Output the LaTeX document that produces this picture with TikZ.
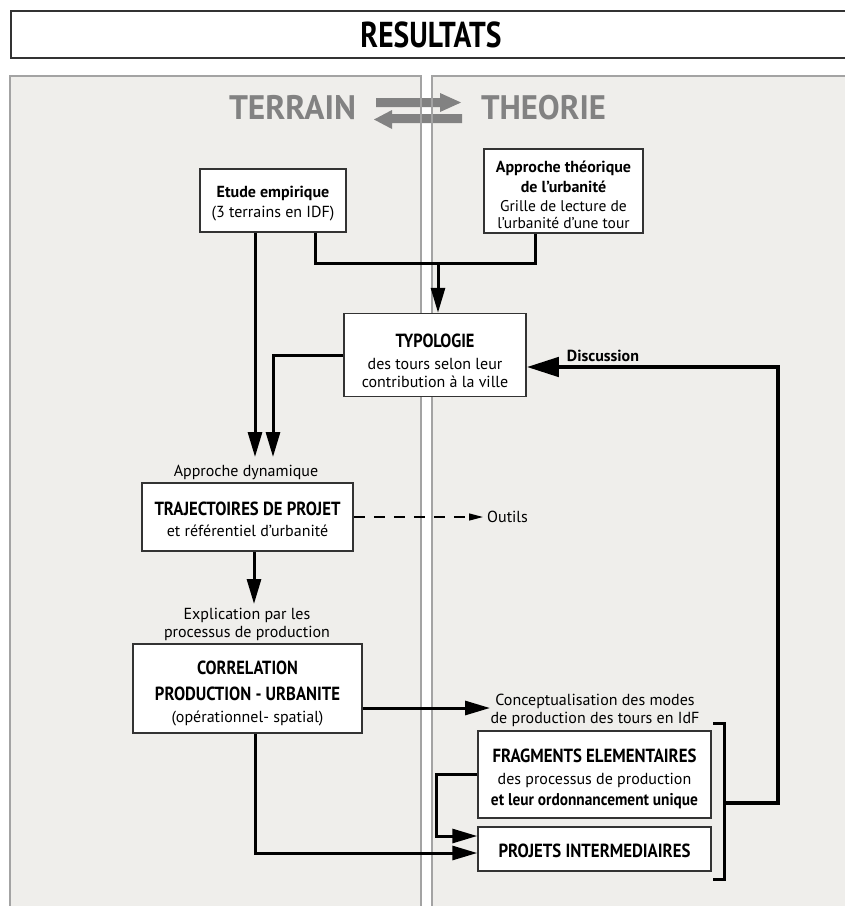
\documentclass[tikz,border=0pt]{standalone}
\usepackage{fontspec}
\usepackage{graphicx}
\setmainfont{PT Sans}
\newfontfamily\condb[FakeStretch=0.8]{PT Sans}
\usetikzlibrary{arrows.meta}
\definecolor{panelbg}{HTML}{EFEEEB}
\definecolor{panelbd}{HTML}{A3A3A3}
\definecolor{boxbd}{HTML}{333333}
\definecolor{tgray}{HTML}{828282}
\tikzset{
  box/.style={draw=boxbd, line width=1.5pt, fill=white, align=center, inner sep=0pt, font=\fontsize{16}{18}\selectfont},
  lbl/.style={align=center, inner sep=0pt, font=\fontsize{16}{18}\selectfont},
  conn/.style={line width=3pt, black},
  arr/.style={conn, -{Triangle[length=25pt,width=14pt]}},
  loopln/.style={line width=4.5pt, black, -{Triangle[length=32pt,width=19pt]}},
  dashln/.style={line width=1.3pt, dash pattern=on 11pt off 9pt, -{Triangle[length=14pt,width=7pt]}},
}
% heading text fitted to a given width, keeping its height
\newcommand{\hdw}[2]{\resizebox{#1pt}{\height}{\condb\bfseries\fontsize{19}{22}\selectfont #2}}
% invisible strut to push a text block down
\newcommand{\tstrut}[1]{\rule{0pt}{#1pt}}
\begin{document}
\begin{tikzpicture}[x=1pt,y=-1pt]
\useasboundingbox (0,0) rectangle (845,906);
\fill[white] (0,0) rectangle (845,906);
% title
\node[draw=boxbd, line width=1.5pt, fill=white, minimum width=850pt, minimum height=47pt, anchor=north west, inner sep=0pt] (title) at (10,10) {};
\node[inner sep=0pt] (titletxt) at (431,35) {\resizebox{141pt}{\height}{\condb\bfseries\fontsize{36}{40}\selectfont RESULTATS}};
% panels
\filldraw[fill=panelbg, draw=panelbd, line width=1.5pt] (10,76) rectangle (421,915);
\filldraw[fill=panelbg, draw=panelbd, line width=1.5pt] (432,76) rectangle (855,915);
% terrain / theorie
\node[text=tgray, inner sep=0pt] (terrain) at (292.5,108) {\resizebox{127pt}{\height}{\bfseries\fontsize{34}{38}\selectfont TERRAIN}};
\node[text=tgray, inner sep=0pt] (theorie) at (543.5,108) {\resizebox{125pt}{\height}{\bfseries\fontsize{34}{38}\selectfont THEORIE}};
\fill[tgray] (376,98) -- (440,98) -- (440,93) -- (461,102.5) -- (440,112) -- (440,107) -- (376,107) -- cycle;
\fill[tgray] (462,114) -- (392,114) -- (392,110) -- (374,119.5) -- (392,129) -- (392,123) -- (462,123) -- cycle;
\draw[panelbd, line width=1.5pt] (421,84) -- (421,134) (432,84) -- (432,134);
% boxes
\node[box, minimum width=146pt, minimum height=63pt] (etude) at (273,200.5)
  {\tstrut{17.5}{\bfseries Etude empirique}\\[2pt](3 terrains en IDF)};
\node[box, minimum width=159pt, minimum height=84pt] (appr) at (563.5,191)
  {\tstrut{20}{\bfseries Approche théorique}\\[2pt]{\bfseries de l'urbanité}\\[1pt]{\fontsize{15.5}{17}\selectfont Grille de lecture de}\\[-1pt]{\fontsize{15.5}{17}\selectfont l'urbanité d'une tour}};
\node[box, minimum width=182pt, minimum height=83pt] (typo) at (435,355)
  {\tstrut{25}\hdw{79}{TYPOLOGIE}\\[4pt]des tours selon leur\\contribution à la ville};
\node[box, minimum width=211pt, minimum height=68pt] (traj) at (247.5,517)
  {\tstrut{17.5}\hdw{186}{TRAJECTOIRES DE PROJET}\\[3pt]et référentiel d'urbanité};
\node[box, minimum width=229pt, minimum height=89pt] (corr) at (247.5,688.5)
  {\tstrut{23.5}\hdw{101}{CORRELATION}\\[8pt]\hdw{185}{PRODUCTION - URBANITE}\\[4pt](opérationnel- spatial)};
\node[box, minimum width=233pt, minimum height=87pt] (frag) at (594.5,774.5)
  {\tstrut{21.5}\hdw{204}{FRAGMENTS ELEMENTAIRES}\\[4pt]des processus de production\\[3pt]\resizebox{207pt}{\height}{\condb\bfseries\fontsize{17}{20}\selectfont et leur ordonnancement unique}};
\node[box, minimum width=233pt, minimum height=44pt] (proj) at (594.5,849)
  {\tstrut{17.5}\hdw{192}{PROJETS INTERMEDIAIRES}};
% labels
\node[lbl] (dyn) at (246,472) {Approche dynamique};
\node[lbl] (expl) at (247,624) {Explication par les\\processus de production};
\node[lbl] (concept) at (595,710) {Conceptualisation des modes\\de production des tours en IdF};
\node[lbl, anchor=west] (outils) at (487,517) {Outils};
\node[font=\bfseries\fontsize{16}{18}\selectfont, inner sep=0pt] (disc) at (603,356) {Discussion};
% coordinates
\coordinate (tipA) at (255,457);
\coordinate (tipB) at (273,457);
\coordinate (junc) at (438,263.5);
\coordinate (tipE) at (254,604);
\coordinate (tipO) at (483,517);
\coordinate (tipC) at (490,708);
\coordinate (brmid) at (724,803);
\coordinate (loopc) at (778,803);
% connectors
\draw[arr] ([xshift=-18pt]etude.south) -- (tipA);
\draw[conn] ([xshift=42pt]etude.south) |- (junc);
\draw[conn] ([xshift=-28.5pt]appr.south) |- (junc);
\draw[arr] (junc) -- (junc |- typo.north);
\draw[arr] (typo.west) -| (tipB);
\draw[loopln] (brmid) -- (loopc) |- ([yshift=-12pt]typo.east);
\draw[arr] ([xshift=6.5pt]traj.south) -- (tipE);
\draw[dashln] (traj.east) -- (tipO);
\draw[arr] ([yshift=-19.5pt]corr.east) -- (tipC);
\draw[arr] ([xshift=7.5pt]corr.south) |- ([yshift=-4pt]proj.west);
\draw[arr] (frag.west) -- ++(-41pt,0) |- ([yshift=13pt]proj.west);
% bracket
\draw[line width=3pt] (713,723) -- (724,723) -- (724,879) -- (713,879);
\end{tikzpicture}
\end{document}
